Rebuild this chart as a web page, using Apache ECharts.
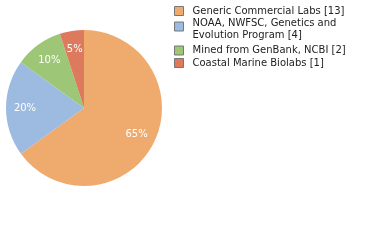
<!DOCTYPE html>
<html><head><meta charset="utf-8">
<script src="https://cdn.jsdelivr.net/npm/echarts@6/dist/echarts.min.js"></script>
<style>html,body{margin:0;padding:0;background:#fff}#c{width:380px;height:240px}</style>
</head><body><div id="c"></div>
<script>
var categories = ["Generic Commercial Labs [13]", "NOAA, NWFSC, Genetics and\nEvolution Program [4]", "Mined from GenBank, NCBI [2]", "Coastal Marine Biolabs [1]"];
var counts = [13, 4, 2, 1];
var colors = ["#efab6e", "#9dbbe0", "#9dc676", "#dd795d"];

var FONT = '"DejaVu Sans", Verdana, sans-serif';
var total = counts.reduce(function(a,b){return a+b;},0);
var legendTops = [5, 14.5, 44.5, 57];
var legends = categories.map(function(c, i){
  var lines = c.split('\n');
  return {
    orient: 'vertical', left: 174, top: legendTops[i], padding: 0, itemGap: 0,
    itemWidth: 9, itemHeight: 9, icon: 'rect',
    itemStyle: {borderColor: '#777', borderWidth: 1},
    textStyle: {fontFamily: FONT, fontSize: 10, color: '#222', lineHeight: 12, padding: [0,0,0,4],
      rich: {
        a: {fontFamily: FONT, fontSize: 10, color: '#222', lineHeight: 17},
        b: {fontFamily: FONT, fontSize: 10, color: '#222', lineHeight: 7}
      }},
    formatter: lines.length > 1 ? function(){ return '{a|' + lines[0] + '}\n{b|' + lines[1] + '}'; } : '{name}',
    data: [c]
  };
});
var chart = echarts.init(document.getElementById('c'), null, {renderer:'canvas'});
chart.setOption({
  animation: false,
  legend: legends,
  series: [{
    type: 'pie', radius: [0, 78], center: [84, 108], startAngle: 90, clockwise: true,
    label: {show: false}, labelLine: {show: false}, emphasis: {disabled: true},
    data: counts.map(function(v,i){return {name: categories[i], value: v, itemStyle:{color: colors[i]}};})
  }, {
    type: 'pie', radius: [34, 78], center: [84, 108], startAngle: 90, clockwise: true,
    emphasis: {disabled: true}, silent: true,
    label: {show: true, position: 'inside', color: '#fff', fontFamily: FONT, fontSize: 10,
      formatter: function(p){return Math.round(p.value/total*100) + '%';}},
    labelLine: {show: false},
    data: counts.map(function(v,i){return {name: categories[i], value: v, itemStyle:{color:'rgba(0,0,0,0)'}};})
  }]
});
</script></body></html>
